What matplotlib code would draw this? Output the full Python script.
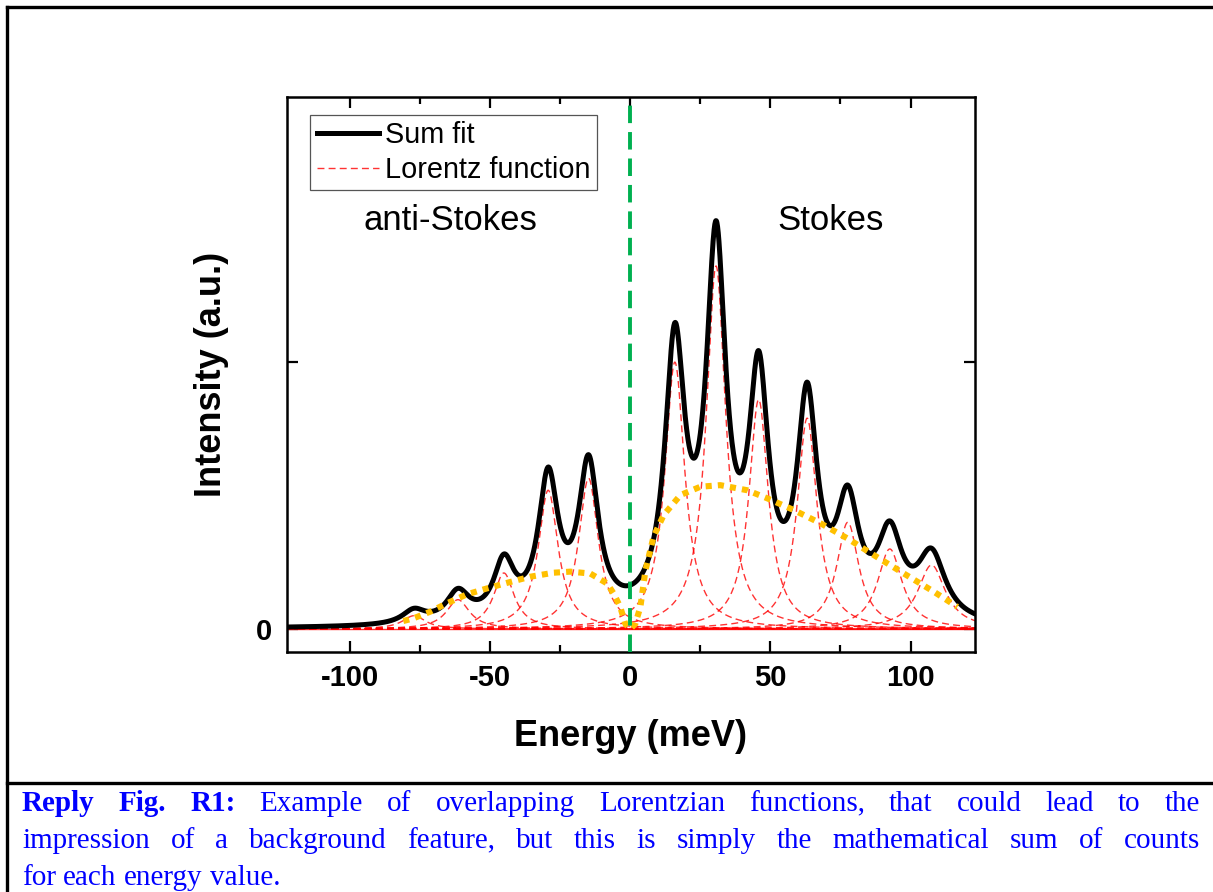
import numpy as np
import matplotlib
matplotlib.use("Agg")
import matplotlib.pyplot as plt
from matplotlib.lines import Line2D

plt.rcParams['font.family'] = ['Liberation Sans', 'DejaVu Sans']
plt.rcParams['axes.unicode_minus'] = False

# Lorentz components: centre (meV), peak height, half width (meV)
centers = [-77.2, -61.5, -45.1, -29.3, -14.9, 15.9, 30.6, 45.8, 63.1, 77.6, 92.6, 107.5]
amps = [0.05, 0.11, 0.21, 0.52, 0.565, 1.0, 1.36, 0.86, 0.79, 0.40, 0.30, 0.24]
widths = [5.0, 5.0, 4.5, 4.3, 4.3, 4.3, 4.2, 4.2, 4.3, 4.8, 5.3, 6.0]

# dotted "apparent background" guide
bg_x = [-81, -77.4, -71.4, -65.5, -58.3, -51.2, -44, -35.7, -27.4, -21.4, -14.3,
        -8.3, -6.0, -3.6, -1.8, 0.0, 1.8, 3.6, 5.4, 8.3, 11.9, 17.9, 25, 32.1,
        41.7, 48.8, 58.3, 67.9, 77.4, 86.9, 97.6, 108.3, 116.7]
bg_y = [0.03, 0.04, 0.065, 0.096, 0.130, 0.152, 0.173, 0.196, 0.211, 0.215, 0.208,
        0.171, 0.134, 0.083, 0.02, 0.0, 0.02, 0.083, 0.22, 0.346, 0.427, 0.502, 0.533, 0.539,
        0.52, 0.49, 0.446, 0.396, 0.34, 0.277, 0.208, 0.14, 0.083]

xticks = [-100, -50, 0, 50, 100]
xminor = [-75, -25, 25, 75]

caption_lines = [
    [("Reply", True), ("Fig.", True), ("R1:", True), ("Example", False), ("of", False),
     ("overlapping", False), ("Lorentzian", False), ("functions,", False), ("that", False),
     ("could", False), ("lead", False), ("to", False), ("the", False)],
    [(w, False) for w in "impression of a background feature, but this is simply the "
                        "mathematical sum of counts".split()],
    [(w, False) for w in "for each energy value.".split()],
]

W, H = 1213, 892
fig = plt.figure(figsize=(W / 100, H / 100), dpi=100)
ax = fig.add_axes([287 / W, 1 - 652 / H, (975 - 287) / W, (652 - 97) / H])

x = np.linspace(-122.5, 123, 2000)
total = np.zeros_like(x)
for i, (c, a, w) in enumerate(zip(centers, amps, widths)):
    comp = a / (1 + ((x - c) / w) ** 2)
    total += comp
    ax.plot(x, comp, color='red', lw=1.0, ls=(0, (5, 3)), alpha=0.8, zorder=2,
            label='Lorentz function' if i == 0 else None)
ax.axhline(0, color='red', lw=1.0, alpha=0.8, zorder=2)

ax.plot(x, total, color='black', lw=3.6, zorder=3, label='Sum fit')
ax.plot(bg_x, bg_y, color='#FFC000', lw=4.4, ls=(0, (1, 1)), zorder=4)
ax.axvline(0, color='#00B050', lw=2.8, ls=(0, (4.5, 2.3)), zorder=5)

ax.set_xlim(-122.5, 123)
ax.set_ylim(-0.086, 1.993)
ax.set_xticks(xticks)
ax.set_xticks(xminor, minor=True)
ax.set_yticks([0, 1])
ax.set_yticklabels(['0', ''])
ax.tick_params(which='both', direction='in', top=True, right=True, width=1.6,
               labelsize=21)
ax.tick_params(axis='x', pad=9)
ax.tick_params(axis='y', pad=11)
ax.tick_params(which='major', length=8)
ax.tick_params(which='minor', length=5)
for lab in ax.get_xticklabels() + ax.get_yticklabels():
    lab.set_fontweight('bold')
for sp in ax.spines.values():
    sp.set_linewidth(1.8)

ax.set_xlabel('Energy (meV)', fontsize=26, fontweight='bold', labelpad=19)
ax.set_ylabel('Intensity (a.u.)', fontsize=26, fontweight='bold', labelpad=19)

ax.text(-64.1, 1.532, 'anti-Stokes', fontsize=25, ha='center', va='center')
ax.text(71.3, 1.532, 'Stokes', fontsize=25, ha='center', va='center')

handles, labels = ax.get_legend_handles_labels()
order = [labels.index('Sum fit'), labels.index('Lorentz function')]
leg = ax.legend([handles[k] for k in order], [labels[k] for k in order],
                loc='upper left', bbox_to_anchor=(0.034, 0.968), fontsize=20.8,
                frameon=True, fancybox=False, framealpha=1, edgecolor='#555555',
                borderpad=0.22, labelspacing=0.24, handlelength=2.15,
                handletextpad=0.22, borderaxespad=0)
leg.get_frame().set_linewidth(0.9)

# outer box and caption separator
for xs, ys in [([7 / W, 7 / W], [0, 1 - 7 / H]),
               ([7 / W, 1], [1 - 7 / H, 1 - 7 / H]),
               ([7 / W, 1], [1 - 783 / H, 1 - 783 / H])]:
    fig.add_artist(Line2D(xs, ys, transform=fig.transFigure, color='black', lw=2.4))

# justified caption
renderer = fig.canvas.get_renderer()
cap_kw = dict(fontsize=21, color='#0000FF', family=['Liberation Serif', 'DejaVu Serif'],
              va='baseline', ha='left')
left, right = 22, 1200
baselines = [811, 848, 885]
for n, (words, base) in enumerate(zip(caption_lines, baselines)):
    texts = [fig.text(0, 1 - base / H, w, fontweight='bold' if b else 'normal', **cap_kw)
             for w, b in words]
    sizes = [t.get_window_extent(renderer).width for t in texts]
    if n < len(caption_lines) - 1:
        gap = (right - left - sum(sizes)) / (len(words) - 1)
    else:
        sp = fig.text(0, 0, 'a a', **cap_kw)
        sp2 = fig.text(0, 0, 'aa', **cap_kw)
        gap = sp.get_window_extent(renderer).width - sp2.get_window_extent(renderer).width
        sp.remove()
        sp2.remove()
    pos = left
    for t, s in zip(texts, sizes):
        t.set_x(pos / W)
        pos += s + gap

fig.savefig('out.png', dpi=100)
